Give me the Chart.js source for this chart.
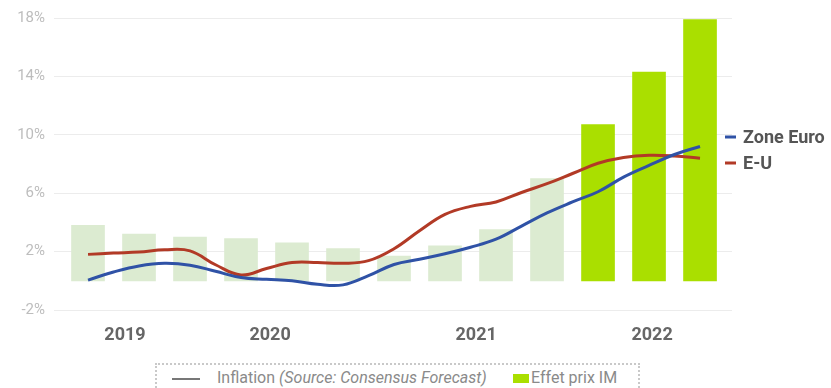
<!DOCTYPE html>
<html>
<head>
<meta charset="utf-8">
<script src="https://cdn.jsdelivr.net/npm/chart.js@4.4.1/dist/chart.umd.min.js"></script>
<style>
  body { margin: 0; background: #fff; font-family: Roboto, "Open Sans", sans-serif; }
  #wrap { position: relative; width: 831px; height: 388px; overflow: hidden; }
  #graph { position: absolute; left: 0; top: 0; }
  #legende {
    position: absolute; left: 155px; top: 363px; width: 485px; height: 40px;
    border: 2px dotted #c9c9c9; box-sizing: border-box;
    font-size: 16px; color: #8a8a8a;
  }
  #legende .trait { position: absolute; left: 15px; top: 13px; width: 28px; height: 2px; background: #777; }
  #legende .t1 { position: absolute; left: 60px; top: 3px; white-space: nowrap; }
  #legende .carre { position: absolute; left: 356px; top: 9px; width: 16px; height: 9px; background: #aadf00; }
  #legende .t2 { position: absolute; left: 374px; top: 3px; white-space: nowrap; }
</style>
</head>
<body>
<div id="wrap">
  <canvas id="graph" width="831" height="350"></canvas>
  <div id="legende">
    <span class="trait"></span>
    <span class="t1">Inflation <i>(Source: Consensus Forecast)</i></span>
    <span class="carre"></span>
    <span class="t2">Effet prix IM</span>
  </div>
</div>
<script>
// barres : une par période (index 0..12)
const effetPrixIM = [3.8, 3.2, 3.0, 2.9, 2.6, 2.2, 1.7, 2.4, 3.5, 7.0, 10.7, 14.3, 17.9];
const debutIM = 10; // les 3 dernières barres en vert vif

// courbes d'inflation, positions exprimées en index de période
const pointsX = [0, 0.5, 1, 1.5, 2, 2.5, 3, 3.5, 4, 4.5, 5, 5.5, 6, 6.5, 7, 7.5, 8, 8.5, 9, 9.5, 10, 10.5, 11, 11.5, 12];
const zoneEuro = [0.05, 0.6, 1.02, 1.2, 1.07, 0.65, 0.22, 0.1, 0.0, -0.24, -0.28, 0.35, 1.12, 1.48, 1.85, 2.3, 2.85, 3.75, 4.65, 5.4, 6.1, 7.1, 7.9, 8.65, 9.2];
const etatsUnis = [1.81, 1.9, 1.97, 2.12, 2.05, 1.1, 0.4, 0.84, 1.25, 1.25, 1.2, 1.38, 2.2, 3.43, 4.55, 5.1, 5.4, 6.05, 6.65, 7.35, 8.05, 8.45, 8.6, 8.55, 8.4];

// étiquettes d'années sur l'axe x
const annees = ['2019', '2020', '2021', '2022'];
const anneesPos = [0.725, 3.57, 7.61, 11.06];

const yTicks = [-2, 2, 6, 10, 14, 18];

const BLEU = '#2f52a6';
const ROUGE = '#b23a26';

const seriesDroite = {
  id: 'seriesDroite',
  afterDraw(chart) {
    const { ctx, chartArea } = chart;
    const items = [['Zone Euro', BLEU, 119], ['E-U', ROUGE, 145]];
    ctx.save();
    ctx.font = 'bold 18px Roboto';
    ctx.textBaseline = 'middle';
    items.forEach(([txt, col, dy]) => {
      const y = chartArea.top + dy;
      ctx.fillStyle = col;
      ctx.fillRect(chartArea.right - 7, y - 1.5, 11, 3);
      ctx.fillStyle = '#555';
      ctx.fillText(txt, chartArea.right + 11, y + 1);
    });
    ctx.restore();
  }
};

new Chart(document.getElementById('graph'), {
  data: {
    datasets: [
      {
        type: 'line',
        label: 'Zone Euro',
        data: pointsX.map((x, i) => ({ x: x, y: zoneEuro[i] })),
        borderColor: BLEU,
        borderWidth: 3,
        pointRadius: 0,
        tension: 0.4,
        order: 1
      },
      {
        type: 'line',
        label: 'E-U',
        data: pointsX.map((x, i) => ({ x: x, y: etatsUnis[i] })),
        borderColor: ROUGE,
        borderWidth: 3,
        pointRadius: 0,
        tension: 0.4,
        order: 2
      },
      {
        type: 'bar',
        label: 'Effet prix IM',
        data: effetPrixIM.map((v, i) => ({ x: i, y: v })),
        backgroundColor: effetPrixIM.map((v, i) => i >= debutIM ? '#aadf00' : '#dcebd1'),
        barThickness: 33,
        order: 3
      }
    ]
  },
  options: {
    responsive: false,
    animation: false,
    layout: { padding: { top: 16, right: 99, bottom: 0, left: 0 } },
    plugins: { legend: { display: false }, tooltip: { enabled: false } },
    scales: {
      x: {
        type: 'linear',
        offset: false,
        min: -0.667,
        max: 12.627,
        grid: { display: false },
        border: { display: false },
        afterBuildTicks: s => { s.ticks = anneesPos.map(v => ({ value: v })); },
        afterFit: s => { s.height = 40; },
        ticks: {
          autoSkip: false,
          maxRotation: 0,
          padding: 7,
          color: '#666',
          font: { family: 'Roboto', size: 18, weight: 'bold' },
          callback: (v, i) => annees[i]
        }
      },
      y: {
        min: -2,
        max: 18,
        afterBuildTicks: s => { s.ticks = yTicks.map(v => ({ value: v })); },
        afterFit: s => { s.width = 54; },
        grid: { color: '#ececec', drawTicks: false },
        border: { display: false },
        ticks: {
          padding: 9,
          color: '#bdbdbd',
          font: { family: 'Roboto', size: 15 },
          callback: v => v + '%'
        }
      }
    }
  },
  plugins: [seriesDroite]
});
</script>
</body>
</html>
